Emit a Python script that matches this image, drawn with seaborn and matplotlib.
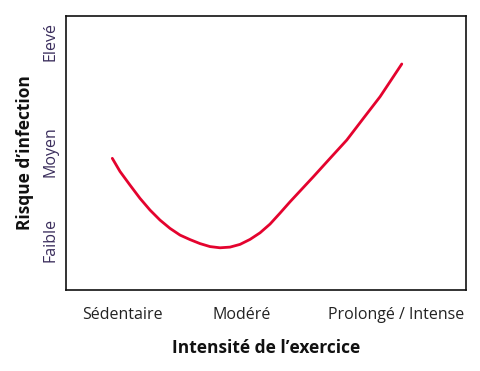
import matplotlib
matplotlib.use("Agg")
import matplotlib.pyplot as plt
import seaborn as sns
import pandas as pd

# J-curve: exercise intensity vs infection risk
intensity = [11.48, 13.41, 15.91, 18.42, 20.93, 23.43, 25.94, 28.45, 30.95,
             33.46, 35.96, 38.47, 40.98, 43.48, 45.99, 48.50, 51.00, 53.51,
             56.02, 61.85, 66.04, 70.23, 74.39, 78.57, 81.90, 84.01]
risk = [48.07, 43.28, 38.32, 33.47, 29.20, 25.55, 22.52, 20.07, 18.43,
        16.97, 15.88, 15.44, 15.69, 16.68, 18.50, 20.91, 24.09, 28.10,
        32.23, 41.35, 48.07, 54.74, 62.66, 70.55, 77.85, 82.48]

x_tick_pos = [13.9, 44.0, 82.6]
x_tick_labels = ["Sédentaire", "Modéré", "Prolongé / Intense"]
y_tick_pos = [18.2, 50.4, 90.5]
y_tick_labels = ["Faible", "Moyen", "Elevé"]

df = pd.DataFrame({"intensity": intensity, "risk": risk})

sns.set_style("white")
plt.rcParams["font.family"] = ["Open Sans", "DejaVu Sans"]

fig = plt.figure(figsize=(4.8, 3.71), dpi=100)
ax = fig.add_axes([0.1385, 0.218, 0.8315, 0.739])

sns.lineplot(data=df, x="intensity", y="risk", color="#e4032e", linewidth=2.0,
             sort=False, ax=ax)

ax.set_xlim(0, 100)
ax.set_ylim(0, 100)
ax.set_xticks(x_tick_pos)
ax.set_xticklabels(x_tick_labels, fontsize=11.5, color="#222222")
ax.set_yticks(y_tick_pos)
ax.set_yticklabels(y_tick_labels, fontsize=11.5, color="#3a2d5c",
                   rotation=90, va="center")
ax.tick_params(axis="x", length=0, pad=12)
ax.tick_params(axis="y", length=0, pad=6)

ax.set_xlabel("Intensité de l’exercice", fontsize=12.5, fontweight="bold",
              labelpad=12, color="#111111")
ax.set_ylabel("Risque d’infection", fontsize=12.5, fontweight="bold",
              labelpad=6, color="#111111")

for s in ax.spines.values():
    s.set_visible(True)
    s.set_color("#111111")
    s.set_linewidth(1.2)

fig.savefig("out.png", dpi=100)
